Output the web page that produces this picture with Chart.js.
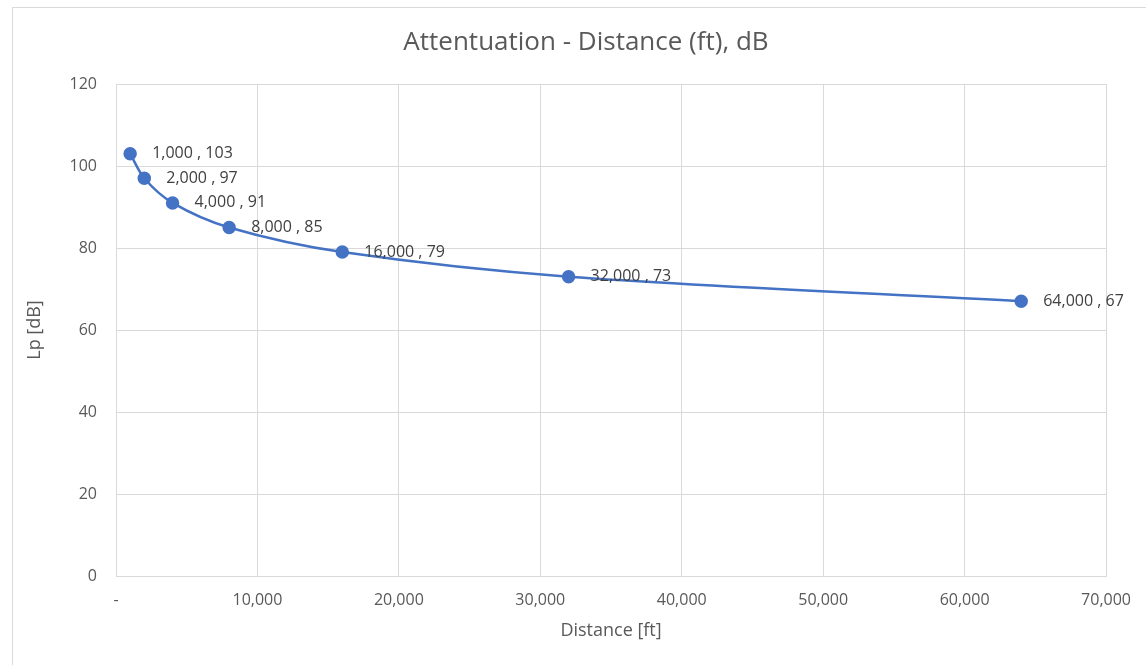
<!DOCTYPE html>
<html>
<head>
<meta charset="utf-8">
<script src="https://cdn.jsdelivr.net/npm/chart.js@4"></script>
<style>
  html, body { margin: 0; padding: 0; background: #fff; }
  #wrap { width: 1146px; height: 665px; position: relative; }
</style>
</head>
<body>
<div id="wrap"><canvas id="chart"></canvas></div>
<script>
// distancia vs nivel de presion
const distances = [1000, 2000, 4000, 8000, 16000, 32000, 64000];
const levels = [103, 97, 91, 85, 79, 73, 67];
const chartTitle = 'Attentuation - Distance (ft), dB';
const xTitle = 'Distance [ft]';
const yTitle = 'Lp [dB]';

const FONT = '"Open Sans", sans-serif';
const blue = '#4472C4';
const gridColor = '#d9d9d9';

function fmt(n) {
    return n.toLocaleString('en-US');
}

// marco, titulo y etiquetas de datos
const extras = {
    id: 'extras',
    beforeDraw(chart) {
        const c = chart.ctx;
        c.save();
        c.strokeStyle = gridColor;
        c.lineWidth = 1;
        c.beginPath();
        c.moveTo(12.5, 665);
        c.lineTo(12.5, 7.5);
        c.lineTo(1146, 7.5);
        c.stroke();
        c.fillStyle = '#595959';
        c.font = '26px ' + FONT;
        c.textAlign = 'center';
        c.textBaseline = 'middle';
        c.fillText(chartTitle, 586, 43);
        c.restore();
    },
    afterDatasetsDraw(chart) {
        const c = chart.ctx;
        const meta = chart.getDatasetMeta(0);
        c.save();
        c.fillStyle = '#404040';
        c.font = '16px ' + FONT;
        c.textAlign = 'left';
        c.textBaseline = 'middle';
        meta.data.forEach((pt, i) => {
            c.fillText(fmt(distances[i]) + ' , ' + levels[i], pt.x + 22, pt.y);
        });
        c.restore();
    }
};

const ctx = document.getElementById('chart').getContext('2d');
new Chart(ctx, {
    type: 'scatter',
    data: {
        datasets: [{
            data: distances.map((d, i) => ({ x: d, y: levels[i] })),
            showLine: true,
            borderColor: blue,
            backgroundColor: blue,
            borderWidth: 2.5,
            pointRadius: 5.5,
            pointHoverRadius: 5.5,
            tension: 0.3
        }]
    },
    options: {
        responsive: true,
        maintainAspectRatio: false,
        animation: false,
        layout: { padding: { left: 12, right: 39, top: 84, bottom: 0 } },
        plugins: {
            legend: { display: false },
            tooltip: { enabled: false }
        },
        scales: {
            x: {
                type: 'linear',
                min: 0,
                max: 70000,
                afterFit(scale) { scale.height = 89; },
                grid: { color: gridColor, drawTicks: false },
                border: { color: gridColor },
                ticks: {
                    stepSize: 10000,
                    padding: 15,
                    color: '#595959',
                    font: { family: FONT, size: 16 },
                    maxRotation: 0,
                    callback: v => v === 0 ? '-' : fmt(v)
                },
                title: {
                    display: true,
                    text: xTitle,
                    color: '#595959',
                    font: { family: FONT, size: 18 },
                    padding: { top: 0, bottom: 23 }
                }
            },
            y: {
                min: 0,
                max: 120,
                afterFit(scale) { scale.width = 104; },
                grid: { color: gridColor, drawTicks: false },
                border: { color: gridColor },
                ticks: {
                    stepSize: 20,
                    padding: 19,
                    color: '#595959',
                    font: { family: FONT, size: 16 }
                },
                title: {
                    display: true,
                    text: yTitle,
                    color: '#595959',
                    font: { family: FONT, size: 18 },
                    padding: { top: 12, bottom: 0 }
                }
            }
        }
    },
    plugins: [extras]
});
</script>
</body>
</html>
